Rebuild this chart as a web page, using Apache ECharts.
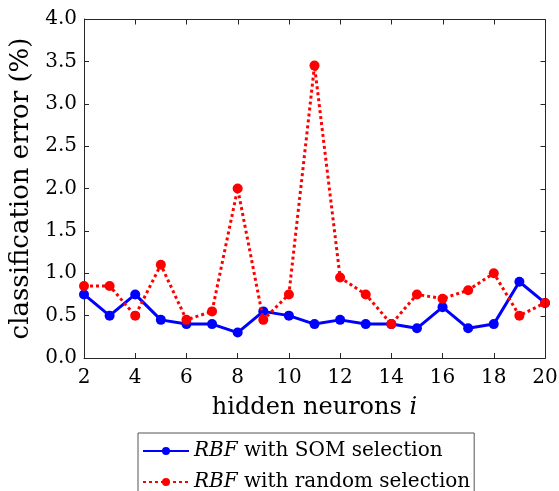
<!DOCTYPE html>
<html>
<head>
<meta charset="utf-8">
<script src="https://cdn.jsdelivr.net/npm/echarts@6/dist/echarts.min.js"></script>
<style>
  html, body { margin: 0; padding: 0; background: #fff; }
  #chart { width: 559px; height: 491px; }
</style>
</head>
<body>
<div id="chart"></div>
<script>
// hidden neurons i
const neurons = [2, 3, 4, 5, 6, 7, 8, 9, 10, 11, 12, 13, 14, 15, 16, 17, 18, 19, 20];
// classification error (%)
const somError = [0.75, 0.5, 0.75, 0.45, 0.4, 0.4, 0.3, 0.55, 0.5, 0.4, 0.45, 0.4, 0.4, 0.35, 0.6, 0.35, 0.4, 0.9, 0.65];
const randomError = [0.85, 0.85, 0.5, 1.1, 0.45, 0.55, 2.0, 0.45, 0.75, 3.45, 0.95, 0.75, 0.4, 0.75, 0.7, 0.8, 1.0, 0.5, 0.65];
// tick values
const xTicks = [2, 4, 6, 8, 10, 12, 14, 16, 18, 20];
const yTicks = [0, 0.5, 1, 1.5, 2, 2.5, 3, 3.5, 4];

const serif = '"DejaVu Serif", "Liberation Serif", serif';
const axisColor = '#262626';

const chart = echarts.init(document.getElementById('chart'));

function frameLine() {
    return { show: true, onZero: false, lineStyle: { color: axisColor, width: 1 } };
}
function frameTick() {
    return { show: true, inside: true, length: 5, lineStyle: { color: axisColor } };
}

chart.setOption({
    animation: false,
    grid: { left: 84, right: 14, top: 19, bottom: 133, outerBoundsMode: 'none' },
    xAxis: {
        type: 'value', min: 2, max: 20, interval: 2,
        axisLine: frameLine(), axisTick: frameTick(), splitLine: { show: false },
        name: '{n|hidden neurons }{i|i}',
        nameLocation: 'middle', nameGap: 38,
        nameTextStyle: {
            rich: {
                n: { fontFamily: serif, fontSize: 24, color: '#000' },
                i: { fontFamily: serif, fontSize: 24, fontStyle: 'italic', color: '#000' }
            }
        },
        axisLabel: { fontFamily: serif, fontSize: 20, color: '#000', margin: 10 }
    },
    yAxis: {
        type: 'value', min: 0, max: 4, interval: 0.5,
        axisLine: frameLine(), axisTick: frameTick(), splitLine: { show: false },
        name: 'classification error (%)',
        nameLocation: 'middle', nameGap: 48,
        nameTextStyle: { fontFamily: serif, fontSize: 26, color: '#000' },
        axisLabel: {
            fontFamily: serif, fontSize: 20, color: '#000', margin: 7,
            formatter: v => v.toFixed(1)
        }
    },
    legend: {
        orient: 'horizontal', left: 138, top: 433, width: 320,
        padding: [8, 4, 20, 4], itemGap: 11, itemWidth: 46, itemHeight: 10,
        borderColor: '#555', borderWidth: 1, backgroundColor: '#fff',
        formatter: name => name === 'som'
            ? '{i|RBF}{t| with SOM selection}'
            : '{i|RBF}{t| with random selection}',
        textStyle: {
            rich: {
                i: { fontFamily: serif, fontSize: 20, fontStyle: 'italic', color: '#000' },
                t: { fontFamily: serif, fontSize: 20, color: '#000' }
            }
        },
        data: ['som', 'random']
    },
    series: [
        {
            name: 'som', type: 'line',
            data: neurons.map((n, i) => [n, somError[i]]),
            symbol: 'circle', symbolSize: 10,
            itemStyle: { color: '#0000ff' },
            lineStyle: { color: '#0000ff', width: 3 }, z: 3
        },
        {
            name: 'random', type: 'line',
            data: neurons.map((n, i) => [n, randomError[i]]),
            symbol: 'circle', symbolSize: 10,
            itemStyle: { color: '#ff0000' },
            lineStyle: { color: '#ff0000', width: 3, type: [3, 3] }, z: 4
        }
    ]
});

// top and right sides of the box, with inward ticks
const corner1 = chart.convertToPixel({ seriesIndex: 0 }, [2, 4]);
const corner2 = chart.convertToPixel({ seriesIndex: 0 }, [20, 0]);
const frameTop = Math.round(corner1[1]) + 0.5;
const frameLeft = Math.round(corner1[0]) + 0.5;
const frameRight = Math.round(corner2[0]) + 0.5;
const frameBottom = Math.round(corner2[1]) + 0.5;
const stroke = { stroke: axisColor, lineWidth: 1 };
const frame = [
    { type: 'line', shape: { x1: frameLeft, y1: frameTop, x2: frameRight, y2: frameTop }, style: stroke, z: 100, silent: true },
    { type: 'line', shape: { x1: frameRight, y1: frameTop, x2: frameRight, y2: frameBottom }, style: stroke, z: 100, silent: true }
];
xTicks.forEach(v => {
    const x = Math.round(chart.convertToPixel({ seriesIndex: 0 }, [v, 4])[0]) + 0.5;
    frame.push({ type: 'line', shape: { x1: x, y1: frameTop, x2: x, y2: frameTop + 5 }, style: stroke, z: 100, silent: true });
});
yTicks.forEach(v => {
    const y = Math.round(chart.convertToPixel({ seriesIndex: 0 }, [20, v])[1]) + 0.5;
    frame.push({ type: 'line', shape: { x1: frameRight, y1: y, x2: frameRight - 5, y2: y }, style: stroke, z: 100, silent: true });
});
chart.setOption({ graphic: frame });
</script>
</body>
</html>
